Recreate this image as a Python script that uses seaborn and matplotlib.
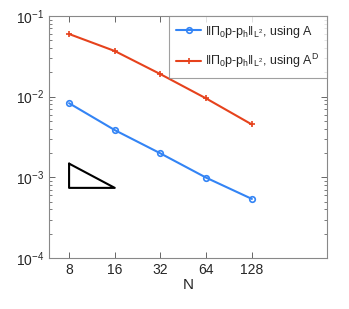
import numpy as np
import pandas as pd
import seaborn as sns
import matplotlib
matplotlib.use('Agg')
import matplotlib.pyplot as plt

# values
N = [8, 16, 32, 64, 128]
err_A = [0.0083, 0.00385, 0.00198, 0.00099, 0.00054]
err_AD = [0.0598, 0.0368, 0.0190, 0.0095, 0.00452]
tri_x = [8, 8, 16, 8]
tri_y = [0.00148, 0.00074, 0.00074, 0.00148]
labels = [r'$\Vert\Pi_0 p$-$p_h\Vert_{L^2}$, using A',
          r'$\Vert\Pi_0 p$-$p_h\Vert_{L^2}$, using A$^{D}$']

sns.set_style('white')
plt.rcParams['font.family'] = ['Liberation Sans', 'DejaVu Sans']
plt.rcParams['mathtext.fontset'] = 'custom'
plt.rcParams['mathtext.rm'] = 'Liberation Sans'
plt.rcParams['mathtext.it'] = 'Liberation Sans'

dfA = pd.DataFrame({'N': N, 'err': err_A})
dfD = pd.DataFrame({'N': N, 'err': err_AD})

fig = plt.figure(figsize=(3.49, 3.09), dpi=100)
ax = fig.add_axes([49 / 349, 1 - 258 / 309, 278 / 349, 242 / 309])

blue = '#3384f5'
red = '#e6421c'
sns.lineplot(data=dfA, x='N', y='err', color=blue, marker='o',
             markersize=4, markerfacecolor='none', markeredgewidth=1.2,
             markeredgecolor=blue, linewidth=1.5, label=labels[0], ax=ax)
sns.lineplot(data=dfD, x='N', y='err', color=red, marker='+',
             markersize=5, markeredgewidth=1.2, markeredgecolor=red,
             linewidth=1.5, label=labels[1], ax=ax)
ax.plot(tri_x, tri_y, color='black', linewidth=1.5)

ax.set_xscale('log')
ax.set_yscale('log')
ax.set_xlim(5.9, 400)
ax.set_ylim(1e-4, 1e-1)
ax.set_xticks(N)
ax.set_xticklabels([str(n) for n in N])
ax.xaxis.set_minor_locator(matplotlib.ticker.NullLocator())
ax.set_yticks([1e-4, 1e-3, 1e-2, 1e-1])
ax.yaxis.set_minor_locator(matplotlib.ticker.LogLocator(base=10, subs=np.arange(2, 10)))
ax.yaxis.set_minor_formatter(matplotlib.ticker.NullFormatter())
ax.tick_params(which='both', direction='in', top=True, right=True,
               bottom=True, left=True, labelsize=10, color='#666666')
ax.tick_params(which='major', length=4, width=0.7)
ax.tick_params(which='minor', length=2, width=0.6)
for s in ax.spines.values():
    s.set_color('#888888')
    s.set_linewidth(0.8)
ax.set_xlabel('N', fontsize=11, labelpad=1)
ax.set_ylabel('')

leg = ax.legend(loc='upper right', fontsize=9, frameon=True, fancybox=False,
                borderpad=0.6, handlelength=2.0, handletextpad=0.3,
                labelspacing=1.0, borderaxespad=0)
leg.get_frame().set_edgecolor('#888888')
leg.get_frame().set_linewidth(0.8)

fig.savefig('out.png', dpi=100)
